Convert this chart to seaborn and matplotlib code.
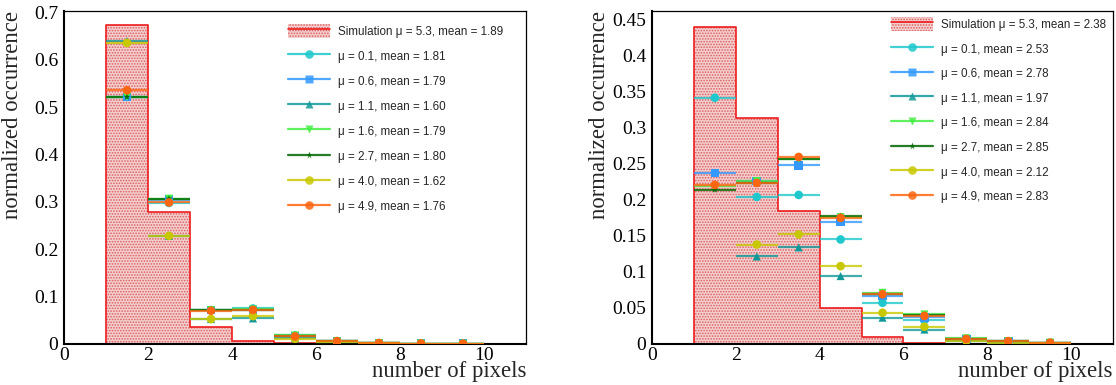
import numpy as np
import pandas as pd
import matplotlib
matplotlib.use("Agg")
import matplotlib.pyplot as plt
from matplotlib.patches import Patch
from matplotlib.lines import Line2D
from matplotlib.legend_handler import HandlerTuple
from matplotlib.ticker import MultipleLocator, FuncFormatter
import seaborn as sns

# ---------------- data ----------------
bin_edges = list(range(0, 12))                      # number of pixels, 0..11
bin_centers = [0.5 + i for i in range(11)]
point_centers = [1.5, 2.5, 3.5, 4.5, 5.5, 6.5, 7.5, 8.5, 9.5]

mu_values = ["0.1", "0.6", "1.1", "1.6", "2.7", "4.0", "4.9"]

# left panel
sim_left = [0.0, 0.673, 0.279, 0.0365, 0.007, 0.002, 0.0, 0.0, 0.0, 0.0, 0.0]
sim_left_label = "Simulation \u03bc = 5.3, mean = 1.89"
means_left = ["1.81", "1.79", "1.60", "1.79", "1.80", "1.62", "1.76"]
left_mu01 = [0.522, 0.298, 0.0717, 0.075, 0.018, 0.006, 0.002, 0.001, 0.0005]
left_mu06 = [0.522, 0.305, 0.0717, 0.072, 0.016, 0.006, 0.002, 0.001, 0.0005]
left_mu11 = [0.640, 0.2285, 0.0527, 0.054, 0.012, 0.005, 0.0015, 0.001, 0.0005]
left_mu16 = [0.522, 0.307, 0.0717, 0.073, 0.018, 0.006, 0.002, 0.001, 0.0005]
left_mu27 = [0.522, 0.307, 0.0717, 0.072, 0.016, 0.006, 0.002, 0.001, 0.0005]
left_mu40 = [0.636, 0.2285, 0.0527, 0.059, 0.011, 0.005, 0.0015, 0.001, 0.0005]
left_mu49 = [0.536, 0.299, 0.0703, 0.072, 0.016, 0.006, 0.002, 0.001, 0.0005]

# right panel
sim_right = [0.0, 0.44, 0.3134, 0.185, 0.0499, 0.0097, 0.001, 0.0, 0.0, 0.0, 0.0]
sim_right_label = "Simulation \u03bc = 5.3, mean = 2.38"
means_right = ["2.53", "2.78", "1.97", "2.84", "2.85", "2.12", "2.83"]
right_mu01 = [0.3416, 0.204, 0.2068, 0.145, 0.0572, 0.033, 0.006, 0.003, 0.001]
right_mu06 = [0.237, 0.226, 0.248, 0.1694, 0.0665, 0.037, 0.007, 0.004, 0.0015]
right_mu11 = [0.59, 0.1214, 0.134, 0.0942, 0.0365, 0.020, 0.004, 0.002, 0.001]
right_mu16 = [0.219, 0.226, 0.257, 0.176, 0.071, 0.041, 0.008, 0.004, 0.002]
right_mu27 = [0.214, 0.224, 0.257, 0.1773, 0.070, 0.040, 0.007, 0.004, 0.002]
right_mu40 = [0.53, 0.138, 0.152, 0.108, 0.0434, 0.024, 0.0046, 0.0018, 0.001]
right_mu49 = [0.2207, 0.2234, 0.2595, 0.175, 0.069, 0.039, 0.007, 0.004, 0.002]

left_series = [left_mu01, left_mu06, left_mu11, left_mu16, left_mu27, left_mu40, left_mu49]
right_series = [right_mu01, right_mu06, right_mu11, right_mu16, right_mu27, right_mu40, right_mu49]

# ---------------- style ----------------
series_style = {
    "0.1": dict(color="#1ec8cc", marker="o", ms=6.2),
    "0.6": dict(color="#3399ff", marker="s", ms=6.2),
    "1.1": dict(color="#119999", marker="^", ms=5.8),
    "1.6": dict(color="#44ee44", marker="v", ms=5.8),
    "2.7": dict(color="#006600", marker="*", ms=5.2),
    "4.0": dict(color="#c8c800", marker="o", ms=6.2),
    "4.9": dict(color="#ff6611", marker="o", ms=6.2),
}
SIM_FACE = "#f3d0d0"
SIM_HATCH = "#dd5c5c"
SIM_LINE = "#ee1c1c"

sns.set_style("white")
plt.rcParams["font.family"] = ["Liberation Serif", "DejaVu Serif"]
plt.rcParams["hatch.linewidth"] = 0.8
plt.rcParams["axes.linewidth"] = 1.0

fig = plt.figure(figsize=(11.16, 3.85), dpi=100)
W, H = 1116.0, 385.0
ax1 = fig.add_axes([64 / W, 41 / H, 462 / W, 333 / H])
ax2 = fig.add_axes([652 / W, 41 / H, 461 / W, 333 / H])


def draw_panel(ax, sim, sim_label, series, means, ymax, ymajor, yminor,
               leg_anchor, leg_spacing):
    # simulated distribution: dotted fill plus red outline
    sns.histplot(x=bin_centers, weights=sim, bins=bin_edges, element="step",
                 fill=True, facecolor=SIM_FACE, edgecolor=SIM_HATCH, hatch="......",
                 linewidth=0, alpha=1, ax=ax, zorder=1)
    sns.histplot(x=bin_centers, weights=sim, bins=bin_edges, element="step",
                 fill=False, color=SIM_LINE, linewidth=1.2, ax=ax, zorder=1.5)

    handles = [(Patch(facecolor=SIM_FACE, edgecolor=SIM_HATCH, hatch="......", linewidth=0),
                Line2D([], [], color=SIM_LINE, lw=1.2))]
    labels = [sim_label]

    for mu, vals, mean in zip(mu_values, series, means):
        st = series_style[mu]
        df = pd.DataFrame({"npix": point_centers, "occ": vals})
        ax.errorbar(df["npix"], df["occ"], xerr=0.5, fmt="none",
                    ecolor=st["color"], elinewidth=1.6, alpha=0.8, zorder=3)
        sns.scatterplot(data=df, x="npix", y="occ", marker=st["marker"],
                        color=st["color"], s=st["ms"] ** 2, edgecolor="none",
                        linewidth=0, ax=ax, zorder=4, legend=False)
        handles.append(Line2D([], [], color=st["color"], lw=1.6, alpha=0.85,
                              marker=st["marker"], ms=st["ms"], mec="none",
                              mfc=st["color"]))
        labels.append(f"\u03bc = {mu}, mean = {mean}")

    ax.set_xlim(0, 11)
    ax.set_ylim(0, ymax)
    ax.xaxis.set_major_locator(MultipleLocator(2))
    ax.xaxis.set_minor_locator(MultipleLocator(0.5))
    ax.yaxis.set_major_locator(MultipleLocator(ymajor))
    ax.yaxis.set_minor_locator(MultipleLocator(yminor))
    ax.yaxis.set_major_formatter(FuncFormatter(
        lambda v, p: "0" if abs(v) < 1e-9 else f"{v:g}"))
    ax.xaxis.set_major_formatter(FuncFormatter(lambda v, p: f"{v:g}"))

    ax.tick_params(axis="both", which="both", direction="in", colors="black",
                   labelsize=14, top=False, right=False)
    ax.tick_params(axis="y", which="major", length=10, width=1.0, pad=4)
    ax.tick_params(axis="y", which="minor", length=5, width=0.8)
    ax.tick_params(axis="x", which="major", length=7, width=1.0, pad=2)
    ax.tick_params(axis="x", which="minor", length=3.6, width=0.8)

    for side in ["left", "bottom"]:
        ax.spines[side].set_linewidth(1.5)
    for side in ["top", "right"]:
        ax.spines[side].set_linewidth(0.9)
    for sp in ax.spines.values():
        sp.set_color("black")
        sp.set_visible(True)

    ax.set_xlabel("number of pixels", fontsize=16.4, loc="right")
    ax.set_ylabel("normalized occurrence", fontsize=16.4, loc="top")
    ax.xaxis.set_label_coords(1.0, -0.052)

    ax.legend(handles, labels, loc="upper left", bbox_to_anchor=leg_anchor,
              frameon=False, borderpad=0, borderaxespad=0,
              prop={"family": "Liberation Sans", "size": 8.4},
              handlelength=3.6, handleheight=1.5, handletextpad=0.7,
              labelspacing=leg_spacing,
              handler_map={tuple: HandlerTuple(ndivide=1, pad=0)})


draw_panel(ax1, sim_left, sim_left_label, left_series, means_left,
           0.7035, 0.1, 0.02, (0.485, 0.962), 0.93)
draw_panel(ax2, sim_right, sim_right_label, right_series, means_right,
           0.462, 0.05, 0.005, (0.518, 0.982), 0.89)
ax1.yaxis.set_label_coords(-0.089, 1.0)
ax2.yaxis.set_label_coords(-0.091, 1.0)

fig.savefig("out.png", dpi=100)
